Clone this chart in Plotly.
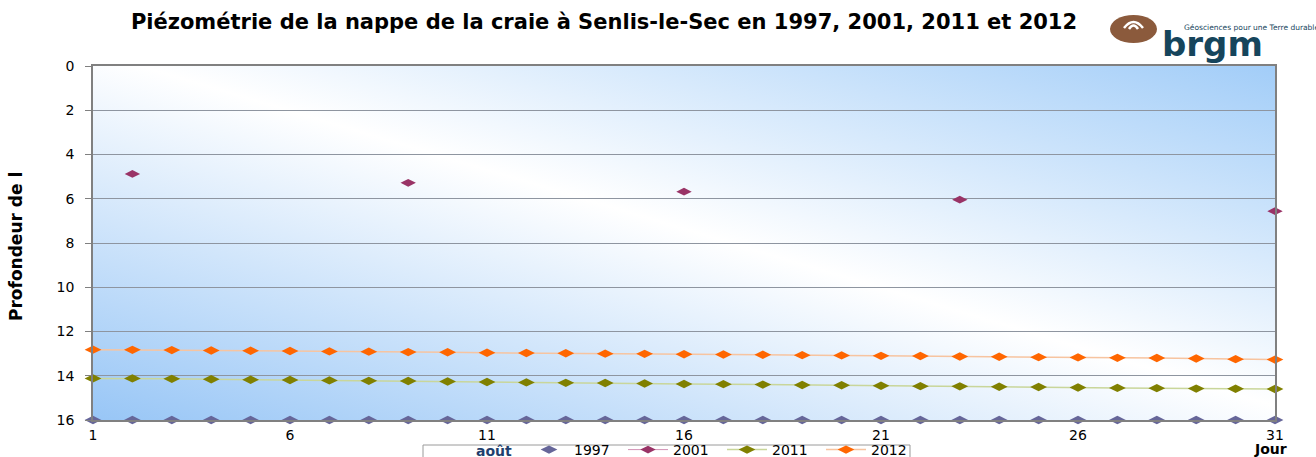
import base64
import plotly.graph_objects as go

days = list(range(1, 32))
v1997 = [16.0, 16.0, 16.0, 16.0, 16.0, 16.0, 16.0, 16.0, 16.0, 16.0, 16.0,
         16.0, 16.0, 16.0, 16.0, 16.0, 16.0, 16.0, 16.0, 16.0, 16.0, 16.0,
         16.0, 16.0, 16.0, 16.0, 16.0, 16.0, 16.0, 16.0, 16.0]
v2001 = [None, 4.88, None, None, None, None, None, None, 5.28, None, None,
         None, None, None, None, 5.68, None, None, None, None, None, None,
         6.04, None, None, None, None, None, None, None, 6.56]
v2011 = [14.12, 14.12, 14.14, 14.16, 14.18, 14.19, 14.21, 14.23, 14.24, 14.26, 14.28,
         14.30, 14.32, 14.33, 14.35, 14.37, 14.38, 14.40, 14.42, 14.43, 14.45, 14.47,
         14.48, 14.50, 14.51, 14.53, 14.55, 14.56, 14.58, 14.59, 14.60]
v2012 = [12.82, 12.83, 12.84, 12.86, 12.87, 12.88, 12.90, 12.91, 12.93, 12.94, 12.96,
         12.97, 12.98, 13.00, 13.01, 13.03, 13.04, 13.05, 13.07, 13.08, 13.10, 13.11,
         13.13, 13.14, 13.16, 13.17, 13.19, 13.20, 13.22, 13.25, 13.27]
x_ticks = [1, 6, 11, 16, 21, 26, 31]
y_ticks = [0, 2, 4, 6, 8, 10, 12, 14, 16]

FONT = "DejaVu Sans, Arial, sans-serif"
L, R, T, B = 93, 41, 66, 37
W, H = 1316, 457
PW, PH = W - L - R, H - T - B


def px(x):
    return (x - L) / PW


def py(y):
    return (H - B - y) / PH


fig = go.Figure()
fig.add_trace(go.Scatter(x=days, y=v1997, name="1997", mode="markers",
                         marker=dict(symbol="diamond-wide", size=12, color="#666699"),
                         cliponaxis=False))
fig.add_trace(go.Scatter(x=days, y=v2001, name="2001", mode="lines+markers",
                         line=dict(color="#d291b4", width=1), connectgaps=False,
                         marker=dict(symbol="diamond-wide", size=11, color="#993366"),
                         cliponaxis=False))
fig.add_trace(go.Scatter(x=days, y=v2011, name="2011", mode="lines+markers",
                         line=dict(color="#c9d69a", width=1.5),
                         marker=dict(symbol="diamond-wide", size=12, color="#808000"),
                         cliponaxis=False))
fig.add_trace(go.Scatter(x=days, y=v2012, name="2012", mode="lines+markers",
                         line=dict(color="#f7c4a0", width=1.5),
                         marker=dict(symbol="diamond-wide", size=12, color="#ff6600"),
                         cliponaxis=False))

svg = ('<svg xmlns="http://www.w3.org/2000/svg" width="1182" height="354" '
       'viewBox="0 0 1182 354" preserveAspectRatio="none">'
       '<defs><linearGradient id="g" x1="0" y1="1" x2="1" y2="0">'
       '<stop offset="0" stop-color="#98c6f6"/>'
       '<stop offset="0.52" stop-color="#ffffff"/>'
       '<stop offset="1" stop-color="#a2cdf8"/>'
       '</linearGradient></defs>'
       '<rect width="1182" height="354" fill="url(#g)"/></svg>')
src = "data:image/svg+xml;base64," + base64.b64encode(svg.encode()).decode()

fig.update_layout(
    width=W, height=H,
    margin=dict(l=L, r=R, t=T, b=B, autoexpand=False),
    paper_bgcolor="white",
    plot_bgcolor="rgba(0,0,0,0)",
    font=dict(family=FONT, size=14, color="black"),
    images=[dict(source=src, xref="paper", yref="paper", x=0, y=1,
                 sizex=1, sizey=1, sizing="stretch", layer="below",
                 xanchor="left", yanchor="top")],
    title=dict(text="<b>Piézométrie de la nappe de la craie à Senlis-le-Sec en 1997, 2001, 2011 et 2012</b>",
               x=604 / W, xanchor="center", y=1 - 22 / H, yanchor="middle",
               font=dict(family=FONT, size=21, color="black")),
    xaxis=dict(range=[1, 31], tickvals=x_ticks, ticktext=[str(t) for t in x_ticks],
               showgrid=False, zeroline=False, showline=True, linecolor="#808080",
               linewidth=1.5, mirror=True, ticks="", tickfont=dict(size=14),
               ticklabelstandoff=1),
    yaxis=dict(range=[16, 0], tickvals=y_ticks, showgrid=True, gridcolor="#8e95a0",
               gridwidth=1, zeroline=False, showline=True, linecolor="#808080",
               linewidth=1.5, mirror=True, ticks="outside", ticklen=6,
               tickcolor="#808080", tickfont=dict(size=14), ticklabelstandoff=8),
    legend=dict(orientation="h", x=px(524), y=py(434), xanchor="left", yanchor="top",
                borderwidth=0, bgcolor="rgba(0,0,0,0)",
                font=dict(size=14), tracegroupgap=0, itemwidth=40,
                entrywidth=44),
    showlegend=True,
)

# legend frame and title
fig.add_shape(type="rect", xref="paper", yref="paper",
              x0=px(423), x1=px(910), y0=py(475), y1=py(445),
              fillcolor="white", line=dict(color="#9a9a9a", width=1))
fig.add_annotation(text="<b>août</b>", x=px(494), y=py(451), xref="paper", yref="paper",
                   showarrow=False, xanchor="center", yanchor="middle",
                   font=dict(size=14, color="#1f3f6e"))

fig.add_annotation(text="<b>Profondeur de l</b>", x=px(16), y=py(247), xref="paper", yref="paper",
                   textangle=-90, showarrow=False, font=dict(size=17), xanchor="center",
                   yanchor="middle")
fig.add_annotation(text="<b>Jour</b>", x=px(1270), y=py(449), xref="paper", yref="paper",
                   showarrow=False, font=dict(size=14), xanchor="center", yanchor="middle")

# logo
fig.add_shape(type="circle", xref="paper", yref="paper",
              x0=px(1110), x1=px(1157), y0=py(43), y1=py(15),
              fillcolor="#8b5a3c", line=dict(width=0))
fig.add_shape(type="path", xref="paper", yref="paper",
              path=f"M {px(1124)},{py(28)} Q {px(1133.5)},{py(16)} {px(1143)},{py(28)}",
              line=dict(color="white", width=2.5))
fig.add_shape(type="path", xref="paper", yref="paper",
              path=f"M {px(1129)},{py(29)} Q {px(1133.5)},{py(22)} {px(1138)},{py(29)}",
              line=dict(color="white", width=2.5))
fig.add_annotation(text="<b>brgm</b>", x=px(1160), y=py(44), xref="paper", yref="paper",
                   showarrow=False, xanchor="left", yanchor="middle",
                   font=dict(size=34, color="#16455c"))
fig.add_annotation(text="Géosciences pour une Terre durable", x=px(1182), y=py(27),
                   xref="paper", yref="paper", showarrow=False, xanchor="left",
                   yanchor="middle", font=dict(size=7.5, color="#16455c"))

fig.write_html("out.html", config={"displayModeBar": False},
               post_script="document.body.style.margin='0';document.body.style.overflow='hidden';")
